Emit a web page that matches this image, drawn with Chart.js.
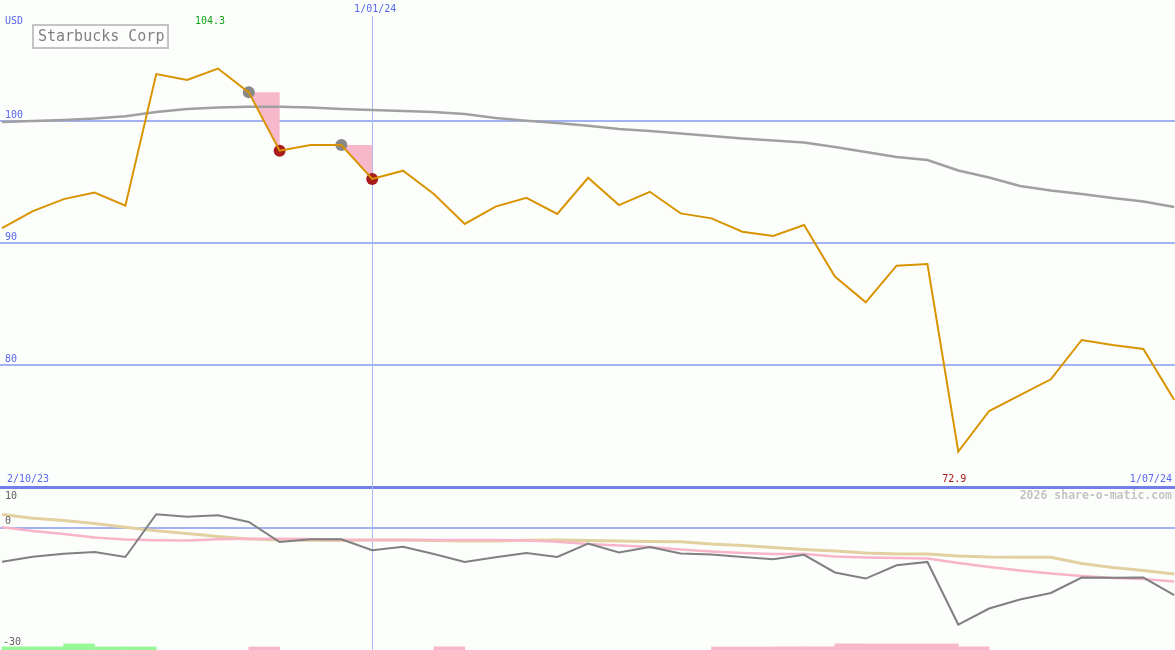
<!DOCTYPE html>
<html>
<head>
<meta charset="utf-8">
<script src="https://cdn.jsdelivr.net/npm/chart.js@4.4.1/dist/chart.umd.min.js"></script>
<style>
  html, body { margin: 0; padding: 0; background: #fcfefc; overflow: hidden; }
  canvas { display: block; }
</style>
</head>
<body>
<canvas id="shareChart" width="1175" height="650"></canvas>
<script>
// weekly closes, 2/10/23 .. 1/07/24
const price = [91.23, 92.62, 93.6, 94.14, 93.06, 103.85, 103.36, 104.3, 102.35, 97.57,
    98.03, 98.03, 95.25, 95.93, 94.02, 91.56, 92.98, 93.71, 92.38, 95.35,
    93.11, 94.2, 92.43, 92.02, 90.93, 90.57, 91.48, 87.25, 85.14, 88.14,
    88.28, 72.9, 76.23, 77.54, 78.83, 82.05, 81.64, 81.31, 77.13];
const movingAvg = [99.92, 100.0, 100.08, 100.2, 100.39, 100.74, 100.98, 101.1, 101.17, 101.17,
    101.1, 100.98, 100.9, 100.82, 100.74, 100.57, 100.25, 100.02, 99.84, 99.61,
    99.34, 99.18, 98.98, 98.77, 98.57, 98.4, 98.24, 97.87, 97.46, 97.05,
    96.8, 95.94, 95.37, 94.67, 94.3, 94.02, 93.69, 93.4, 92.95];

// lower panel
const momentum = [-8.35, -7.12, -6.38, -5.94, -7.17, 3.31, 2.7, 3.07, 1.42, -3.49,
    -2.82, -2.82, -5.52, -4.65, -6.44, -8.4, -7.24, -6.19, -7.17, -3.88,
    -6.09, -4.72, -6.34, -6.58, -7.17, -7.73, -6.63, -10.98, -12.47, -9.2,
    -8.39, -23.75, -19.83, -17.62, -16.0, -12.22, -12.27, -12.22, -16.56];
const pinkAvg = [0.11, -0.8, -1.53, -2.39, -2.86, -3.05, -3.1, -2.83, -2.69, -2.71,
    -2.76, -2.93, -3.0, -3.0, -3.0, -3.0, -3.0, -3.13, -3.42, -3.99,
    -4.36, -4.72, -5.34, -5.83, -6.2, -6.44, -6.44, -7.06, -7.3, -7.42,
    -7.55, -8.65, -9.63, -10.49, -11.23, -11.84, -12.33, -12.58, -13.19];
const tanAvg = [3.25, 2.32, 1.75, 1.04, 0.14, -0.72, -1.41, -2.17, -2.76, -3.0,
    -3.05, -3.13, -3.0, -3.0, -3.13, -3.25, -3.25, -3.07, -3.0, -3.13,
    -3.25, -3.37, -3.42, -3.99, -4.36, -4.85, -5.34, -5.71, -6.2, -6.44,
    -6.44, -6.93, -7.18, -7.25, -7.25, -8.77, -9.75, -10.49, -11.35];

// signal strips at the bottom (week index, height)
const buyIdx = [0, 1, 2, 3, 4];
const buyH = [0.75, 0.75, 1.5, 0.75, 0.75];
const sellIdx = [8, 14, 23, 24, 25, 26, 27, 28, 29, 30, 31];
const sellH = [0.75, 0.75, 0.75, 0.75, 0.75, 0.75, 1.5, 1.5, 1.5, 1.5, 0.75];

// sell markers: drop from week a to week b
const dropFrom = [8, 11];
const dropTo = [9, 12];

const priceTicks = [70, 80, 90, 100];
const lowTicks = [10, 0, -30];
const dateLabels = ['2/10/23', '1/01/24', '1/07/24'];
const midIndex = 12;
const title = 'Starbucks Corp';
const currency = 'USD';
const credit = '2026 share-o-matic.com';

const MONO = '"DejaVu Sans Mono", monospace';
const BLUE = '#5868ec';

const pts = arr => arr.map((v, i) => ({ x: i, y: v }));
const maxI = price.indexOf(Math.max(...price));
const minI = price.indexOf(Math.min(...price));

const datasets = [
    { data: pts(price), borderColor: '#d89400', borderWidth: 2, pointRadius: 0, order: 0 },
    { data: pts(movingAvg), borderColor: '#a0a0a0', borderWidth: 2.5, pointRadius: 0, order: 3 },
    { type: 'scatter', data: dropFrom.map(i => ({ x: i, y: price[i] })), pointRadius: 6,
      pointBackgroundColor: '#888888', pointBorderWidth: 0, order: 1 },
    { type: 'scatter', data: dropTo.map(i => ({ x: i, y: price[i] })), pointRadius: 6,
      pointBackgroundColor: '#a81c1c', pointBorderWidth: 0, order: 1 },
    { data: pts(momentum), yAxisID: 'y2', borderColor: '#808080', borderWidth: 2, pointRadius: 0, order: 2 },
    { data: pts(pinkAvg), yAxisID: 'y2', borderColor: '#f8b4c8', borderWidth: 2.5, pointRadius: 0, order: 4 },
    { data: pts(tanAvg), yAxisID: 'y2', borderColor: '#e2d0a0', borderWidth: 3, pointRadius: 0, order: 5 },
    { type: 'bar', yAxisID: 'y2', grouped: false, data: buyIdx.map((i, k) => ({ x: i + 0.5, y: [-30, -30 + buyH[k]] })),
      backgroundColor: '#98f898', barPercentage: 1, categoryPercentage: 1, order: 6 },
    { type: 'bar', yAxisID: 'y2', grouped: false, data: sellIdx.map((i, k) => ({ x: i + 0.5, y: [-30, -30 + sellH[k]] })),
      backgroundColor: '#f8b8cc', barPercentage: 1, categoryPercentage: 1, order: 6 }
];

// pink wedges from each marker down to the following close
dropFrom.forEach((a, k) => {
    const b = dropTo[k];
    datasets.push({
        data: [{ x: a, y: price[a] }, { x: b, y: price[a] }, { x: b, y: price[b] }],
        borderWidth: 0, pointRadius: 0, fill: 'shape', backgroundColor: '#f8b8cc', order: 7
    });
});

const overlay = {
    id: 'overlay',
    beforeDatasetsDraw(chart) {
        const { ctx, scales: { x } } = chart;
        const vx = Math.round(x.getPixelForValue(midIndex)) + 0.5;
        ctx.save();
        ctx.strokeStyle = '#a8b8f8';
        ctx.lineWidth = 1;
        ctx.beginPath();
        ctx.moveTo(vx, 16);
        ctx.lineTo(vx, chart.height);
        ctx.stroke();
        ctx.restore();
    },
    afterDraw(chart) {
        const { ctx, scales: { x, y, y2 } } = chart;
        const W = chart.width;
        ctx.save();
        ctx.textBaseline = 'middle';
        ctx.font = '10px ' + MONO;

        ctx.fillStyle = BLUE;
        ctx.textAlign = 'left';
        ctx.fillText(currency, 5, 21);
        priceTicks.slice(1).forEach(v => ctx.fillText(String(v), 5, y.getPixelForValue(v) - 6));
        const base = y.getPixelForValue(70);
        ctx.fillText(dateLabels[0], 7, base - 8);
        ctx.textAlign = 'center';
        ctx.fillText(dateLabels[1], x.getPixelForValue(midIndex) + 3, 9);
        ctx.textAlign = 'right';
        ctx.fillText(dateLabels[2], W - 3, base - 8);

        ctx.textAlign = 'center';
        ctx.fillStyle = '#14a014';
        ctx.fillText(price[maxI].toFixed(1), x.getPixelForValue(maxI) - 8, 21);
        ctx.fillStyle = '#a01818';
        ctx.fillText(price[minI].toFixed(1), x.getPixelForValue(minI) - 4, base - 8);

        // lower panel labels
        ctx.textAlign = 'left';
        ctx.fillStyle = '#606060';
        ctx.fillText(String(lowTicks[0]), 5, y2.getPixelForValue(lowTicks[0]) + 9);
        ctx.fillText(String(lowTicks[1]), 5, y2.getPixelForValue(lowTicks[1]) - 6);
        ctx.fillText(String(lowTicks[2]), 3, y2.getPixelForValue(lowTicks[2]) - 8);

        ctx.textAlign = 'right';
        ctx.fillStyle = '#c4c4c4';
        ctx.font = 'bold 11.5px ' + MONO;
        ctx.fillText(credit, W - 3, base + 9);

        // title box
        ctx.strokeStyle = '#c4c4c4';
        ctx.lineWidth = 2;
        ctx.strokeRect(33, 25, 135, 23);
        ctx.fillStyle = '#808080';
        ctx.textAlign = 'left';
        ctx.font = '15px ' + MONO;
        ctx.fillText(title, 38, 37);
        ctx.restore();
    }
};

new Chart(document.getElementById('shareChart'), {
    type: 'line',
    data: { datasets: datasets },
    plugins: [overlay],
    options: {
        responsive: false,
        animation: false,
        layout: { padding: 0, autoPadding: false },
        plugins: { legend: { display: false }, tooltip: { enabled: false } },
        scales: {
            x: { type: 'linear', min: -0.065, max: 38.025, offset: false, display: false },
            y: {
                min: 56.64, max: 109.92,
                afterBuildTicks: s => { s.ticks = priceTicks.map(v => ({ value: v })); },
                border: { display: false },
                grid: {
                    drawTicks: false,
                    color: c => c.tick && c.tick.value === 70 ? '#7080e8' : '#a4b2f4',
                    lineWidth: c => c.tick && c.tick.value === 70 ? 3 : 2
                },
                ticks: { display: false }
            },
            y2: {
                position: 'left',
                min: -30, max: 129.5,
                afterBuildTicks: s => { s.ticks = [{ value: 0 }]; },
                border: { display: false },
                grid: { drawTicks: false, color: '#a4b2f4', lineWidth: 2 },
                ticks: { display: false }
            }
        }
    }
});
</script>
</body>
</html>
